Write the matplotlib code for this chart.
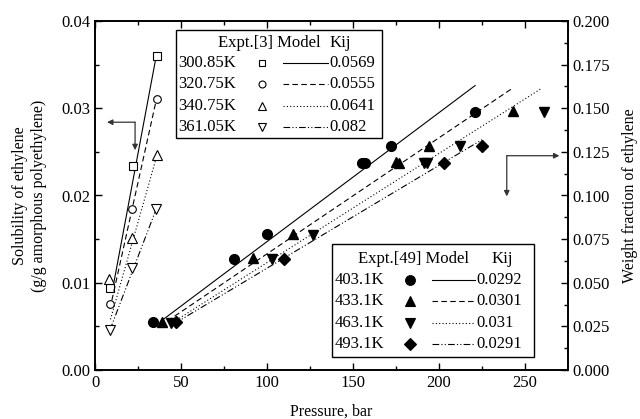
import numpy as np
import matplotlib
matplotlib.use('Agg')
import matplotlib.pyplot as plt
from matplotlib.lines import Line2D
from matplotlib.patches import Rectangle

plt.rcParams['font.family'] = ['Liberation Serif', 'DejaVu Serif']
plt.rcParams['font.size'] = 12

# Expt.[3] solubility data (left axis), g/g amorphous PE
temps_low = ['300.85K', '320.75K', '340.75K', '361.05K']
kij_low = ['0.0569', '0.0555', '0.0641', '0.082']
p_low = [[8.5, 22, 36], [8.7, 21.7, 36], [8.1, 21.7, 36], [8.7, 21.7, 35.5]]
s_low = [[0.0094, 0.0234, 0.0360],
         [0.0076, 0.0185, 0.0311],
         [0.0104, 0.0151, 0.0246],
         [0.0046, 0.0117, 0.0184]]
# model lines (end points)
mp_low = [[9.9, 35.8], [8.7, 35.8], [9.0, 36.0], [8.7, 35.5]]
ms_low = [[0.0089, 0.0362], [0.0070, 0.0311], [0.0058, 0.0246], [0.0046, 0.0184]]

# Expt.[49] weight fraction data (right axis)
temps_high = ['403.1K', '433.1K', '463.1K', '493.1K']
kij_high = ['0.0292', '0.0301', '0.031', '0.0291']
p_high = [[34, 81, 100, 155, 157, 172, 221],
          [39, 92, 115, 175, 177, 194, 243],
          [44, 103, 127, 191, 193, 212, 261],
          [47, 110, 203, 225]]
w_high = [[0.0277, 0.0636, 0.0778, 0.1188, 0.1184, 0.1285, 0.1480],
          [0.0277, 0.0640, 0.0778, 0.1194, 0.1184, 0.1285, 0.1484],
          [0.0271, 0.0636, 0.0774, 0.1184, 0.1184, 0.1285, 0.1477],
          [0.0277, 0.0636, 0.1188, 0.1284]]
mp_high = [[39, 221], [42, 242], [44, 259], [46, 225]]
mw_high = [[0.0285, 0.163], [0.0280, 0.161], [0.0265, 0.161], [0.0265, 0.132]]

styles = ['-', (0, (5, 3)), (0, (1, 2)), (0, (6, 2, 1, 2, 1, 2))]
open_markers = ['s', 'o', '^', 'v']
filled_markers = ['o', '^', 'v', 'D']
open_ms = [5.5, 5.5, 6.5, 6.5]
filled_ms = [7, 7, 7, 6]

fig = plt.figure(figsize=(6.4, 4.19), dpi=100)
ax = fig.add_axes([95/640, 1-370/419, (568-95)/640, (370-21)/419])
ax2 = ax.twinx()

for i in range(4):
    ax.plot(mp_low[i], ms_low[i], color='k', lw=0.8, ls=styles[i])
    ax.plot(p_low[i], s_low[i], ls='none', marker=open_markers[i], ms=open_ms[i],
            mfc='white', mec='k', mew=0.8)
    ax2.plot(mp_high[i], mw_high[i], color='k', lw=0.8, ls=styles[i])
    ax2.plot(p_high[i], w_high[i], ls='none', marker=filled_markers[i],
             ms=filled_ms[i], color='k')

ax.set_xlim(0, 275)
ax.set_ylim(0, 0.04)
ax2.set_ylim(0, 0.2)
ax.set_xticks([0, 50, 100, 150, 200, 250])
ax.set_xticks(np.arange(25, 275, 50), minor=True)
ax.set_yticks([0, 0.01, 0.02, 0.03, 0.04])
ax.set_yticks([0.005, 0.015, 0.025, 0.035], minor=True)
ax.set_yticklabels(['0.00', '0.01', '0.02', '0.03', '0.04'])
ax2.set_yticks(np.arange(0, 0.201, 0.025))
ax2.set_yticks(np.arange(0.0125, 0.2, 0.025), minor=True)
ax2.set_yticklabels(['%.3f' % v for v in np.arange(0, 0.201, 0.025)])

ax.tick_params(which='both', direction='in', top=True, width=1)
ax.tick_params(which='major', length=5)
ax.tick_params(which='minor', length=3)
ax2.tick_params(which='both', direction='in', width=1)
ax2.tick_params(which='major', length=5)
ax2.tick_params(which='minor', length=3)
for a in (ax, ax2):
    for sp in a.spines.values():
        sp.set_linewidth(1.2)

ax.set_xlabel('Pressure, bar', labelpad=9, fontsize=11.5)
ax.set_ylabel('Solubility of ethylene\n(g/g amorphous polyethylene)', labelpad=10,
              linespacing=1.25, fontsize=11.5)
ax2.set_ylabel('Weight fraction of ethylene', labelpad=8, fontsize=11.5)

# arrows pointing to the axes
akw = dict(arrowstyle='-|>', color='#333333', lw=0.9, mutation_scale=8,
           shrinkA=0, shrinkB=0)
ax.annotate('', xy=(7, 0.0284), xytext=(23.3, 0.0284), arrowprops=akw)
ax.annotate('', xy=(23.3, 0.0252), xytext=(23.3, 0.0284), arrowprops=akw)
ax.annotate('', xy=(270, 0.02456), xytext=(239.4, 0.02456), arrowprops=akw)
ax.annotate('', xy=(239.4, 0.0199), xytext=(239.4, 0.02456), arrowprops=akw)


def fp(x, y):
    return (x / 640, 1 - y / 419)


def table_legend(box, head, head_y, kij_x, rows_y, temp_x, mk_x, line_x, val_x,
                 temps, kijs, markers, ms, filled):
    x0, y0, x1, y1 = box
    fig.patches.append(Rectangle(fp(x0, y1), (x1 - x0) / 640, (y1 - y0) / 419,
                                 transform=fig.transFigure, fill=True, fc='white',
                                 ec='k', lw=1.0, zorder=5))
    fig.text(*fp(head[1], head_y), head[0], ha='right', va='center', zorder=6)
    fig.text(*fp(kij_x, head_y), 'Kij', ha='center', va='center', zorder=6)
    for j in range(4):
        y = rows_y[j]
        fig.text(*fp(temp_x, y), temps[j], ha='left', va='center', zorder=6)
        mfc = 'k' if filled else 'white'
        fig.lines.append(Line2D([fp(mk_x, y)[0]], [fp(mk_x, y)[1]],
                                transform=fig.transFigure, ls='none',
                                marker=markers[j], ms=ms[j], mfc=mfc, mec='k',
                                mew=0.8, zorder=6))
        fig.lines.append(Line2D([line_x[0] / 640, line_x[1] / 640],
                                [fp(0, y)[1]] * 2, transform=fig.transFigure,
                                color='k', lw=0.8, ls=styles[j], zorder=6))
        fig.text(*fp(val_x, y), kijs[j], ha='left', va='center', zorder=6)


table_legend((176, 30, 382, 138), ('Expt.[3] Model', 321), 43, 340,
             [63, 84, 106, 127], 178, 262, (283, 328), 329,
             temps_low, kij_low, open_markers, [5, 5, 6, 6], False)
table_legend((332, 244, 534, 357), ('Expt.[49] Model', 469), 259, 502,
             [280, 301, 323, 344], 335, 410, (432, 475), 476,
             temps_high, kij_high, filled_markers, [7, 7, 7, 6], True)

fig.savefig('out.png', dpi=100)
